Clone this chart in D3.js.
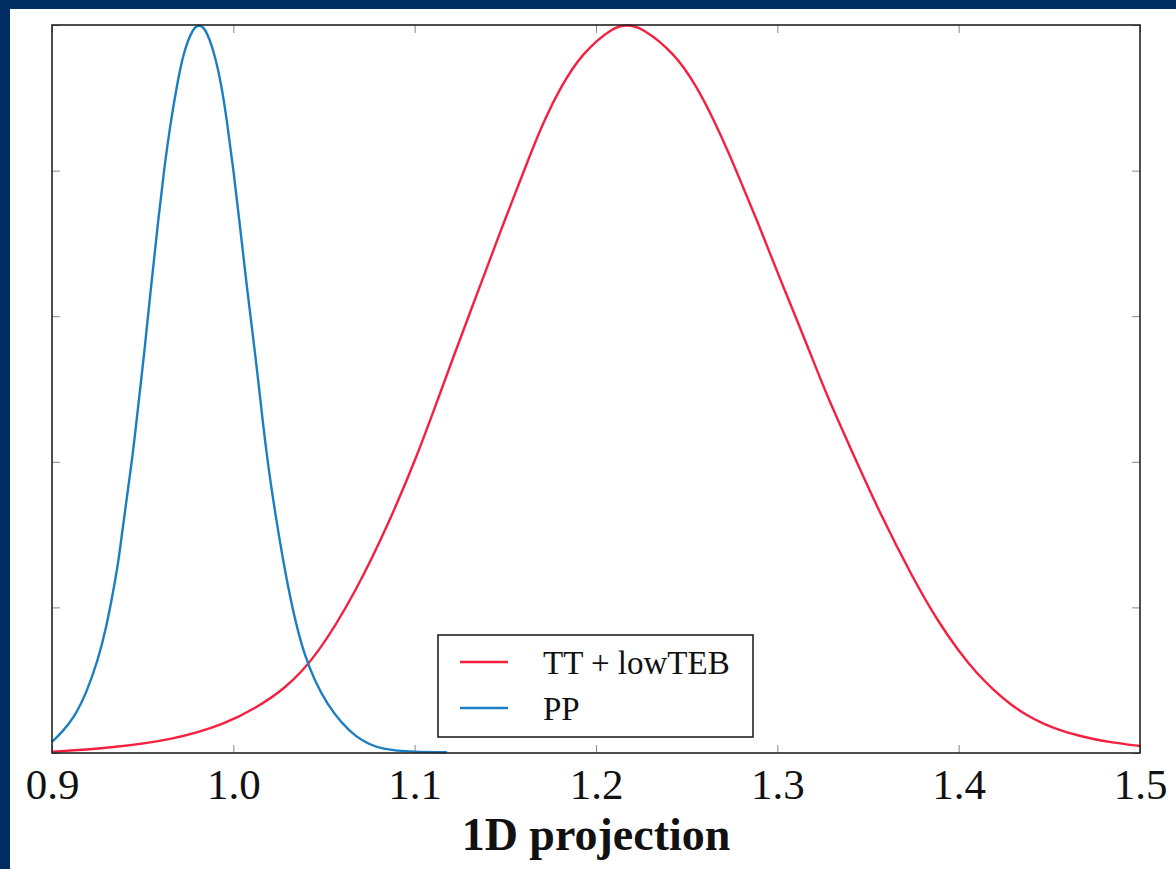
<!DOCTYPE html>
<html lang="en">
<head>
<meta charset="UTF-8">
<title>1D projection</title>
<script src="https://d3js.org/d3.v7.min.js"></script>
<style>
  body { margin: 0; background: #fff; }
  svg { display: block; }
</style>
</head>
<body>
<div id="chart"></div>
<script>
// values (y normalised to peak = 1)
const redX = [0.9000, 0.9302, 0.9671, 0.9964, 1.0120, 1.0278, 1.0460, 1.0681, 1.0857, 1.1012, 1.1133,
  1.1221, 1.1290, 1.1359, 1.1428, 1.1497, 1.1569, 1.1640, 1.1715, 1.1806, 1.1922, 1.2097, 1.2170,
  1.2246, 1.2435, 1.2556, 1.2650, 1.2733, 1.2810, 1.2887, 1.2959, 1.3033, 1.3108, 1.3182, 1.3276,
  1.3400, 1.3565, 1.3753, 1.3880, 1.4008, 1.4100, 1.4192, 1.4284, 1.4376, 1.4468, 1.4560, 1.4652,
  1.4744, 1.4836, 1.5000];
const redY = [0.0018, 0.0065, 0.0179, 0.0408, 0.0615, 0.0865, 0.1323, 0.2239, 0.3155, 0.4070, 0.4894,
  0.5490, 0.5948, 0.6405, 0.6864, 0.7321, 0.7779, 0.8238, 0.8695, 0.9152, 0.9611, 0.9980, 1.0000,
  0.9980, 0.9611, 0.9152, 0.8695, 0.8238, 0.7779, 0.7321, 0.6864, 0.6405, 0.5948, 0.5490, 0.4894,
  0.4207, 0.3293, 0.2376, 0.1830, 0.1369, 0.1095, 0.0866, 0.0670, 0.0515, 0.0400, 0.0312, 0.0245,
  0.0190, 0.0148, 0.0096];

const blueX = [0.9000, 0.9051, 0.9125, 0.9189, 0.9254, 0.9300, 0.9336, 0.9368, 0.9393, 0.9445,
  0.9485, 0.9509, 0.9546, 0.9586, 0.9618, 0.9656, 0.9688, 0.9723, 0.9779, 0.9811, 0.9844,
  0.9897, 0.9936, 0.9964, 1.0000, 1.0033, 1.0074, 1.0120, 1.0143, 1.0184, 1.0239, 1.0303,
  1.0386, 1.0515, 1.0681, 1.0827, 1.1000, 1.1177];
const blueY = [0.0155, 0.0271, 0.0499, 0.0820, 0.1277, 0.1735, 0.2194, 0.2651, 0.3155, 0.4070,
  0.4986, 0.5495, 0.6405, 0.7321, 0.8022, 0.8695, 0.9152, 0.9611, 0.9970, 1.0000, 0.9970,
  0.9611, 0.9152, 0.8695, 0.8022, 0.7321, 0.6405, 0.5495, 0.4986, 0.4070, 0.3155, 0.2239,
  0.1323, 0.0636, 0.0179, 0.0041, 0.0015, 0.0010];

const seriesNames = ["TT + lowTEB", "PP"];
const xTicks = [0.9, 1.0, 1.1, 1.2, 1.3, 1.4, 1.5];
const yTicks = [0, 0.2, 0.4, 0.6, 0.8, 1.0];

const W = 1176, H = 869;
const margin = {top: 25, right: 36, bottom: 116, left: 52},
    width = W - margin.left - margin.right,
    height = H - margin.top - margin.bottom;

const svg = d3.select("#chart").append("svg")
    .attr("width", W)
    .attr("height", H);

// navy frame on top and left edge
svg.append("rect").attr("x", 0).attr("y", 0).attr("width", W).attr("height", 9).attr("fill", "#002d62");
svg.append("rect").attr("x", 0).attr("y", 0).attr("width", 10).attr("height", H).attr("fill", "#002d62");

const g = svg.append("g").attr("transform", `translate(${margin.left},${margin.top})`);

const x = d3.scaleLinear().domain([0.9, 1.5]).range([0, width]);
const y = d3.scaleLinear().domain([0, 1]).range([height, 0]);

// inward ticks on all four sides
g.append("g").attr("transform", `translate(0,${height})`)
  .call(d3.axisBottom(x).tickValues(xTicks).tickSizeInner(-8).tickSizeOuter(0).tickFormat(d3.format(".1f")))
  .call(a => a.select(".domain").remove())
  .call(a => a.selectAll("line").attr("stroke", "#888"))
  .call(a => a.selectAll("text").attr("dy", "1.0em")
      .style("font-family", "'Liberation Serif', 'DejaVu Serif', serif")
      .style("font-size", "43px").attr("fill", "#111"));
g.append("g")
  .call(d3.axisTop(x).tickValues(xTicks).tickSizeInner(-8).tickSizeOuter(0).tickFormat(""))
  .call(a => a.select(".domain").remove())
  .call(a => a.selectAll("line").attr("stroke", "#888"));
g.append("g")
  .call(d3.axisLeft(y).tickValues(yTicks).tickSizeInner(-8).tickSizeOuter(0).tickFormat(""))
  .call(a => a.select(".domain").remove())
  .call(a => a.selectAll("line").attr("stroke", "#888"));
g.append("g").attr("transform", `translate(${width},0)`)
  .call(d3.axisRight(y).tickValues(yTicks).tickSizeInner(-8).tickSizeOuter(0).tickFormat(""))
  .call(a => a.select(".domain").remove())
  .call(a => a.selectAll("line").attr("stroke", "#888"));

// curves
const line = d3.line()
  .x(d => x(d[0]))
  .y(d => y(d[1]))
  .curve(d3.curveBasis);

g.append("path")
  .datum(redX.map((v, i) => [v, redY[i]]))
  .attr("d", line)
  .attr("fill", "none")
  .attr("stroke", "#f5203f")
  .attr("stroke-width", 2.4);

g.append("path")
  .datum(blueX.map((v, i) => [v, blueY[i]]))
  .attr("d", line)
  .attr("fill", "none")
  .attr("stroke", "#1a7fc2")
  .attr("stroke-width", 2.4);

// frame
g.append("rect")
  .attr("width", width).attr("height", height)
  .attr("fill", "none").attr("stroke", "#222").attr("stroke-width", 1.6);

// x label
g.append("text")
  .attr("x", x(1.2))
  .attr("y", height + 97)
  .attr("text-anchor", "middle")
  .style("font-family", "'Liberation Serif', 'DejaVu Serif', serif")
  .style("font-weight", "bold")
  .style("font-size", "46px")
  .attr("fill", "#111")
  .text("1D projection");

// legend
const legend = g.append("g").attr("transform", `translate(${438 - margin.left},${635 - margin.top})`);
legend.append("rect")
  .attr("width", 315).attr("height", 102)
  .attr("fill", "#fff").attr("stroke", "#222").attr("stroke-width", 1.6);
const colors = ["#f5203f", "#1a7fc2"];
seriesNames.forEach((name, i) => {
  const ly = 27 + i * 46;
  legend.append("line")
    .attr("x1", 22).attr("x2", 70).attr("y1", ly).attr("y2", ly)
    .attr("stroke", colors[i]).attr("stroke-width", 2.4);
  legend.append("text")
    .attr("x", 105).attr("y", ly + 12)
    .style("font-family", "'Liberation Serif', 'DejaVu Serif', serif")
    .style("font-size", "33px")
    .attr("fill", "#111")
    .text(name);
});
</script>
</body>
</html>
